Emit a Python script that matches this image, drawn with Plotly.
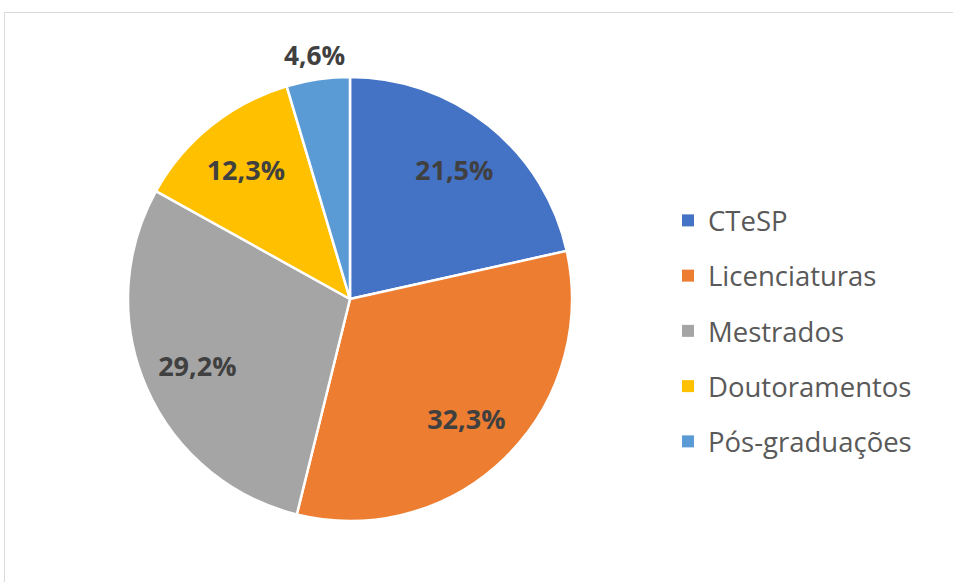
import plotly.graph_objects as go

categories = ["CTeSP", "Licenciaturas", "Mestrados", "Doutoramentos", "Pós-graduações"]
values = [21.5, 32.3, 29.2, 12.3, 4.6]
colors = ["#4472C4", "#ED7D31", "#A5A5A5", "#FFC000", "#5B9BD5"]
inside_labels = [f"{v:.1f}%".replace(".", ",") if v > 10 else "" for v in values]
outside_labels = [f"{v:.1f}%".replace(".", ",") if v <= 10 else "" for v in values]

W, H = 953, 582
cx, cy, r = 350, 299, 222

def dom(rad):
    return dict(x=[(cx - rad) / W, (cx + rad) / W], y=[(H - cy - rad) / H, (H - cy + rad) / H])

label_font = dict(family="Open Sans", size=27, color="#404040", weight="bold")

fig = go.Figure()
# actual pie
fig.add_trace(go.Pie(
    labels=categories, values=values, sort=False, direction="clockwise", rotation=0,
    marker=dict(colors=colors, line=dict(color="white", width=2.5)),
    textinfo="none", showlegend=False, hoverinfo="label+percent", domain=dom(r),
))
# transparent overlay to place inside labels further out (ring centre)
fig.add_trace(go.Pie(
    labels=categories, values=values, sort=False, direction="clockwise", rotation=0, hole=0.5,
    marker=dict(colors=["rgba(0,0,0,0)"] * 5, line=dict(width=0)),
    text=inside_labels, textinfo="text", textposition="inside", insidetextorientation="horizontal",
    textfont=label_font, showlegend=False, hoverinfo="skip", domain=dom(r),
))
# transparent overlay for the small slice label above the pie
r2 = 282
fig.add_trace(go.Pie(
    labels=categories, values=values, sort=False, direction="clockwise", rotation=0, hole=208 / 282,
    marker=dict(colors=["rgba(0,0,0,0)"] * 5, line=dict(width=0)),
    text=outside_labels, textinfo="text", textposition="inside", insidetextorientation="horizontal",
    textfont=label_font, showlegend=False, hoverinfo="skip", domain=dom(r2),
))
for name, c in zip(categories, colors):
    fig.add_trace(go.Scatter(x=[None], y=[None], mode="markers", name=name, legendgroup=name,
                             marker=dict(symbol="square", size=12, color=c)))

fig.add_shape(type="rect", xref="paper", yref="paper", x0=4.5 / W, x1=1.02, y0=-0.02, y1=1 - 12.5 / H,
              line=dict(color="#D9D9D9", width=1))

fig.update_layout(
    width=W, height=H, margin=dict(l=0, r=0, t=0, b=0),
    paper_bgcolor="white", plot_bgcolor="white", separators=",.",
    xaxis=dict(visible=False), yaxis=dict(visible=False),
    legend=dict(x=668 / W, y=1 - 196 / H, xanchor="left", yanchor="top", traceorder="grouped",
                tracegroupgap=16.5, font=dict(family="Open Sans", size=27.5, color="#595959"),
                bgcolor="rgba(0,0,0,0)"),
)
fig.write_html("out.html", config={"displayModeBar": False},
               post_script="document.body.style.margin='0';")
